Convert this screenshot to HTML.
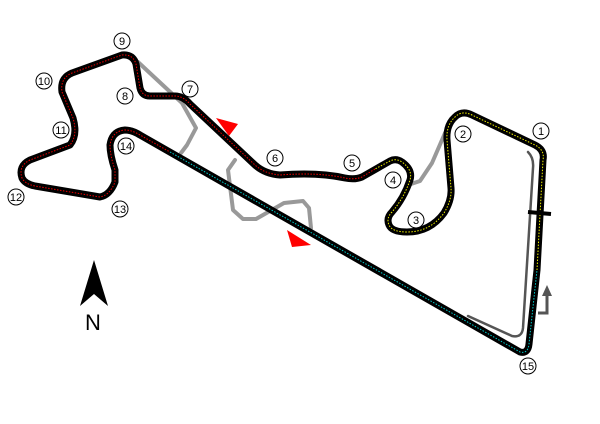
<!DOCTYPE html>
<html><head><style>body{margin:0;background:#fff}svg{display:block}text{font-family:"Liberation Sans",sans-serif;font-size:11px;text-anchor:middle}</style></head><body>
<svg width="600" height="424" viewBox="0 0 600 424">
<g fill="none" stroke-linejoin="round" stroke-linecap="round">
<path d="M138,62 L182,103 L196,128 L187,145 L181,153" stroke="#999" stroke-width="4"/>
<path d="M235,160 L228,170 L233,210 L243,219 L256,219 L284,203 L303,201 L309,208 L311,228" stroke="#999" stroke-width="4"/>
<path d="M408,185 L420,181 L432,163 L445,133" stroke="#999" stroke-width="4"/>
<path d="M468,316 L512,336 Q522,338 523,328 L533,168 Q534,158 528,152" stroke="#555" stroke-width="2.5"/>
<path d="M537,270 L543,160 Q545,150 535,145 L472,115 Q462,110 455,117 Q446,125 447,140 L451,188 Q452,200 444,213 Q430,232 407,232 Q392,232 389,225 Q386,218 392,212 Q404,198 410,180 Q413,170 402,162 Q396,158 390,161 L362,177 Q355,180 345,178 Q318,172 280,175 Q265,174 255,165 L190,104 Q183,96 175,96 L150,96 Q142,96 140,88 L136,64 Q133,54 122,55 L72,73 Q60,78 62,92 L73,118 Q78,135 70,145 L30,160 Q18,166 22,178 Q25,184 35,186 L100,197 Q110,195 115,182 L115,170 Q110,155 110,145 Q112,131 125,130 Q132,130 140,135 L520,352 Q528,354 529,344 L537,270" stroke="#000" stroke-width="7"/>
<path d="M537,270 L543,160 Q545,150 535,145 L472,115 Q462,110 455,117 Q446,125 447,140 L451,188 Q452,200 444,213 Q430,232 407,232 Q392,232 389,225 Q386,218 392,212 Q404,198 410,180 Q413,170 402,162 Q396,158 390,161 L375,169" stroke="#ee0" stroke-width="1" stroke-dasharray="1.5 1.5" stroke-linecap="butt"/>
<path d="M375,169 L362,177 Q355,180 345,178 Q318,172 280,175 Q265,174 255,165 L190,104 Q183,96 175,96 L150,96 Q142,96 140,88 L136,64 Q133,54 122,55 L72,73 Q60,78 62,92 L73,118 Q78,135 70,145 L30,160 Q18,166 22,178 Q25,184 35,186 L100,197 Q110,195 115,182 L115,170 Q110,155 110,145 Q112,131 125,130 Q132,130 140,135 L170,152" stroke="#e00" stroke-width="1" stroke-dasharray="1.5 1.5" stroke-linecap="butt"/>
<path d="M170,152 L520,352 Q528,354 529,344 L537,270" stroke="#0cc" stroke-width="1" stroke-dasharray="1.5 1.5" stroke-linecap="butt"/>
<path d="M528,212 L551,214" stroke="#000" stroke-width="4" stroke-linecap="butt"/>
<path d="M538,313 L547,313 L547,295" stroke="#555" stroke-width="3" stroke-linecap="butt" stroke-linejoin="miter"/>
</g>
<polygon points="542,296 552,296 547,285" fill="#555"/>
<polygon points="216,118 238,124 229,136" fill="#f00"/>
<polygon points="287,230 311,245 292,247" fill="#f00"/>
<polygon points="94,260 80,306 94,294 108,306" fill="#000"/>
<text x="93" y="330" style="font-size:22px">N</text>
<g fill="#fff" stroke="#000" stroke-width="1">
<circle cx="541" cy="131" r="8"/><circle cx="463" cy="134" r="8"/><circle cx="416" cy="220" r="8"/><circle cx="393" cy="180" r="8"/><circle cx="352" cy="163" r="8"/><circle cx="275" cy="158" r="8"/><circle cx="190" cy="89" r="8"/><circle cx="125" cy="96" r="8"/><circle cx="122" cy="41" r="8"/><circle cx="44" cy="81" r="8"/><circle cx="61" cy="130" r="8"/><circle cx="16" cy="197" r="8"/><circle cx="120" cy="209" r="8"/><circle cx="126" cy="146" r="8"/><circle cx="528" cy="366" r="8"/>
</g>
<g fill="#000">
<text x="541" y="135">1</text><text x="463" y="138">2</text><text x="416" y="224">3</text><text x="393" y="184">4</text><text x="352" y="167">5</text><text x="275" y="162">6</text><text x="190" y="93">7</text><text x="125" y="100">8</text><text x="122" y="45">9</text><text x="44" y="85">10</text><text x="61" y="134">11</text><text x="16" y="201">12</text><text x="120" y="213">13</text><text x="126" y="150">14</text><text x="528" y="370">15</text>
</g>
</svg>
</body></html>
